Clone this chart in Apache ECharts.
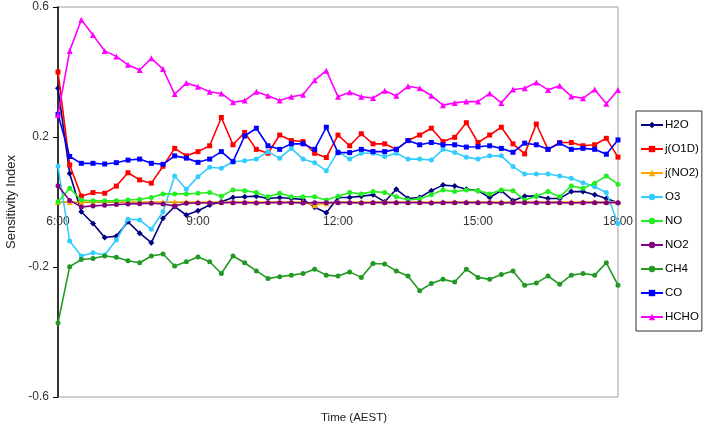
<!DOCTYPE html>
<html><head><meta charset="utf-8">
<script src="https://cdn.jsdelivr.net/npm/echarts@6/dist/echarts.min.js"></script>
<style>html,body{margin:0;padding:0;background:#fff}#c{width:708px;height:424px}</style>
</head><body><div id="c"></div>
<script>
const categories = ["6:00","6:15","6:30","6:45","7:00","7:15","7:30","7:45","8:00","8:15","8:30","8:45","9:00","9:15","9:30","9:45","10:00","10:15","10:30","10:45","11:00","11:15","11:30","11:45","12:00","12:15","12:30","12:45","13:00","13:15","13:30","13:45","14:00","14:15","14:30","14:45","15:00","15:15","15:30","15:45","16:00","16:15","16:30","16:45","17:00","17:15","17:30","17:45","18:00"];
const H2O = [0.35,0.088,-0.030,-0.066,-0.109,-0.105,-0.061,-0.096,-0.125,-0.050,-0.014,-0.040,-0.027,-0.009,0.001,0.014,0.016,0.018,0.011,0.014,0.011,0.008,-0.016,-0.033,0.014,0.014,0.018,0.022,0.001,0.039,0.011,0.014,0.035,0.052,0.049,0.039,0.035,0.014,0.035,0.004,0.018,0.018,0.011,0.011,0.032,0.032,0.022,0.011,-0.002];
const jO1D = [0.40,0.114,0.018,0.029,0.027,0.049,0.090,0.068,0.058,0.11,0.165,0.142,0.155,0.173,0.26,0.176,0.214,0.162,0.150,0.206,0.189,0.186,0.150,0.137,0.206,0.173,0.210,0.179,0.179,0.162,0.189,0.206,0.227,0.186,0.199,0.244,0.183,0.206,0.230,0.179,0.148,0.240,0.162,0.183,0.183,0.173,0.176,0.196,0.138];
const jNO2 = [0,0,0,0,0,0,0,0,0,0,0,0,0,0,0,0,0,0,0,0,0,0,-0.010,-0.004,0,0,0,0,0,0,0,0,0,0,0,0,0,0,0,0,0,0,0,0,0,0,0,0,0];
const O3 = [0.11,-0.12,-0.166,-0.156,-0.163,-0.117,-0.053,-0.055,-0.084,-0.03,0.080,0.039,0.078,0.107,0.104,0.124,0.127,0.132,0.155,0.135,0.165,0.132,0.121,0.096,0.155,0.132,0.150,0.150,0.140,0.150,0.132,0.132,0.129,0.162,0.152,0.138,0.132,0.142,0.142,0.109,0.086,0.086,0.086,0.080,0.073,0.059,0.047,0.029,-0.066];
const NO = [0,0.042,0.006,0.004,0.004,0.004,0.006,0.008,0.014,0.025,0.025,0.025,0.027,0.029,0.018,0.037,0.035,0.029,0.016,0.027,0.016,0.016,0.016,0.006,0.018,0.029,0.025,0.032,0.029,0.016,0.006,0.01,0.022,0.037,0.032,0.037,0.035,0.025,0.037,0.035,0.006,0.018,0.032,0.016,0.049,0.042,0.058,0.080,0.055];
const NO2 = [0.05,0.005,-0.015,-0.012,-0.010,-0.008,-0.006,-0.005,-0.004,-0.006,-0.012,-0.004,-0.003,-0.003,-0.002,-0.002,-0.002,-0.003,-0.002,-0.002,-0.002,-0.003,-0.002,-0.002,-0.002,-0.002,-0.003,-0.002,-0.002,-0.002,-0.002,-0.002,-0.003,-0.002,-0.002,-0.002,-0.002,-0.002,-0.003,-0.002,-0.002,-0.002,-0.002,-0.002,-0.003,-0.002,-0.002,-0.002,-0.002];
const CH4 = [-0.372,-0.199,-0.177,-0.174,-0.166,-0.170,-0.181,-0.187,-0.166,-0.160,-0.197,-0.184,-0.169,-0.184,-0.220,-0.166,-0.187,-0.212,-0.235,-0.230,-0.225,-0.220,-0.207,-0.225,-0.228,-0.215,-0.232,-0.189,-0.191,-0.212,-0.228,-0.273,-0.251,-0.238,-0.246,-0.207,-0.232,-0.238,-0.223,-0.212,-0.256,-0.249,-0.228,-0.253,-0.225,-0.220,-0.225,-0.187,-0.256];
const CO = [0.27,0.140,0.119,0.119,0.117,0.121,0.129,0.132,0.119,0.116,0.142,0.135,0.122,0.132,0.155,0.124,0.203,0.227,0.173,0.162,0.179,0.179,0.162,0.230,0.152,0.152,0.162,0.155,0.155,0.162,0.189,0.176,0.183,0.176,0.176,0.169,0.170,0.173,0.165,0.153,0.181,0.176,0.162,0.181,0.162,0.165,0.162,0.147,0.191];
const HCHO = [0.268,0.465,0.561,0.514,0.465,0.448,0.422,0.406,0.442,0.409,0.332,0.366,0.355,0.339,0.334,0.307,0.312,0.339,0.327,0.312,0.324,0.330,0.375,0.404,0.324,0.338,0.324,0.320,0.342,0.327,0.356,0.350,0.327,0.298,0.305,0.309,0.309,0.334,0.305,0.346,0.350,0.368,0.345,0.358,0.325,0.319,0.346,0.302,0.345];
const seriesNames = ["H2O","j(O1D)","j(NO2)","O3","NO","NO2","CH4","CO","HCHO"];
const seriesData = [H2O,jO1D,jNO2,O3,NO,NO2,CH4,CO,HCHO];
const colors = ["#000080","#FF0000","#FFA500","#33CCFF","#22EE22","#800080","#229922","#0000FF","#FF00FF"];
const symbols = ["diamond","rect","triangle","circle","circle","circle","circle","rect","triangle"];

const chart = echarts.init(document.getElementById('c'), null, {renderer:'canvas'});
const font = 'Liberation Sans, Arial, sans-serif';
chart.setOption({
  animation:false,
  backgroundColor:'#fff',
  grid:{left:58,right:90,top:7,bottom:27,containLabel:false,outerBoundsMode:'none',show:true,borderColor:'#a0a0a0',borderWidth:1,backgroundColor:'transparent'},
  legend:{
    orient:'vertical',left:636,top:111,
    data:seriesNames,
    itemWidth:22,itemHeight:8,itemGap:12,
    padding:[8,3,8,4],
    borderColor:'#333',borderWidth:1,
    textStyle:{fontFamily:font,fontSize:11.5,lineHeight:12,color:'#000',padding:[0,0,0,-3]}
  },
  xAxis:{
    type:'category',data:categories,boundaryGap:false,
    offset:-195,
    axisLine:{onZero:false,lineStyle:{color:'#555',width:1}},
    axisTick:{show:false},
    axisLabel:{interval:11,fontFamily:font,fontSize:12,color:'#333',margin:14},
    splitLine:{show:false}
  },
  yAxis:{
    type:'value',min:-0.6,max:0.6,interval:0.4,
    name:'Sensitivity Index',nameLocation:'middle',nameGap:26,nameRotate:90,
    nameTextStyle:{fontFamily:font,fontSize:13,color:'#222'},
    axisLine:{show:true,onZero:false,lineStyle:{color:'#000',width:1.5}},
    axisTick:{show:true,length:5,lineStyle:{color:'#000'}},
    axisLabel:{fontFamily:font,fontSize:12,color:'#333',margin:9,formatter:v=>(Math.round(v*10)/10).toFixed(1)},
    splitLine:{show:false}
  },
  graphic:[{type:'text',left:'center',top:412,style:{text:'Time (AEST)',font:'11.5px '+font,fill:'#222'}}],
  series:seriesNames.map((n,i)=>({
    name:n,type:'line',data:seriesData[i],
    symbol:symbols[i],symbolSize:symbols[i]==='triangle'?6:(symbols[i]==='diamond'?6:5),
    showAllSymbol:true,
    lineStyle:{color:colors[i],width:1.6},
    itemStyle:{color:colors[i]},
    z:2+i
  }))
});
</script></body></html>
